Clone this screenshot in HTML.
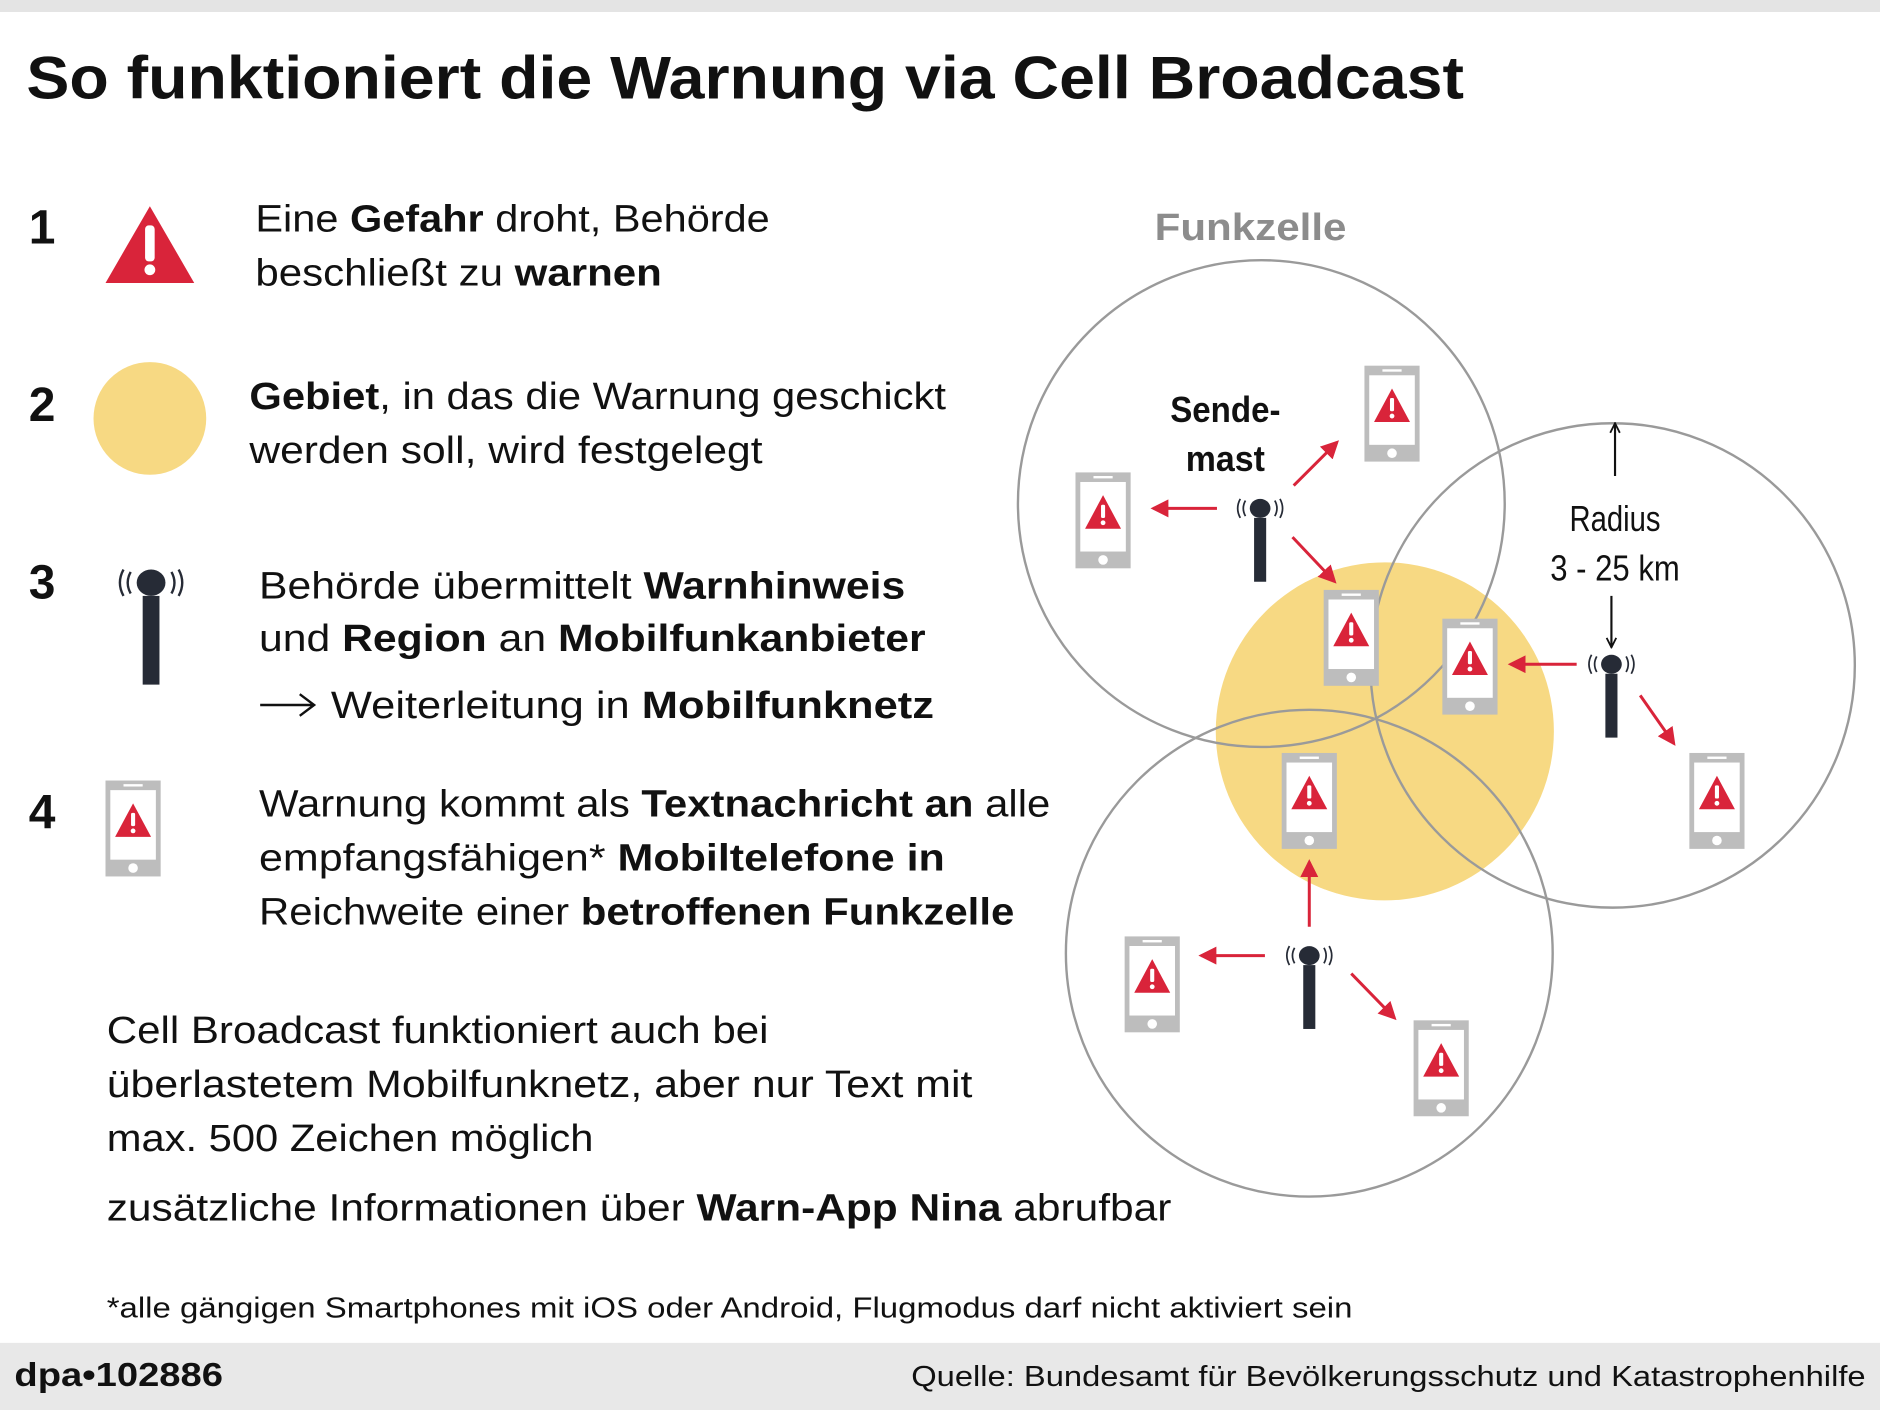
<!DOCTYPE html>
<html><head><meta charset="utf-8"><style>html,body{margin:0;padding:0;background:#fff}svg{display:block}</style></head>
<body>
<svg width="1880" height="1410" viewBox="0 0 1568 1176" preserveAspectRatio="none" xmlns="http://www.w3.org/2000/svg" font-family="Liberation Sans, sans-serif">
<defs>
<g id="phone">
<rect x="0" y="0" width="46" height="80" fill="#bdbdbd"/>
<rect x="4" y="8" width="38" height="58" fill="#fff"/>
<rect x="15" y="3" width="16" height="2" fill="#fff"/>
<circle cx="23" cy="73" r="4" fill="#fff"/>
<path d="M23 19 L38 47 L8 47 Z" fill="#d9243a"/>
<rect x="21.3" y="27" width="3.4" height="11" rx="1.2" fill="#fff"/>
<circle cx="23" cy="42" r="2" fill="#fff"/>
</g>
<g id="mast">
<ellipse cx="0" cy="0" rx="12" ry="11" fill="#262b36"/>
<rect x="-7" y="11" width="14" height="74" fill="#262b36"/>
<path d="M-17 -9 Q-22 0 -17 9 M-23 -11 Q-29 0 -23 11 M17 -9 Q22 0 17 9 M23 -11 Q29 0 23 11" fill="none" stroke="#262b36" stroke-width="2"/>
</g>
<marker id="ah" markerWidth="6" markerHeight="6" refX="5" refY="3" orient="auto" markerUnits="strokeWidth"><path d="M0 0 L6 3 L0 6 Z" fill="#d9243a"/></marker>
<marker id="bh" markerWidth="10" markerHeight="10" refX="9" refY="5" orient="auto" markerUnits="userSpaceOnUse"><path d="M1 1 L9 5 L1 9" fill="none" stroke="#111" stroke-width="1.5"/></marker>
</defs>

<rect x="0" y="0" width="1568" height="10" fill="#e4e4e4"/>
<text x="22" y="82" font-size="50" font-weight="bold" fill="#111" textLength="1199" lengthAdjust="spacingAndGlyphs">So funktioniert die Warnung via Cell Broadcast</text>

<g font-size="40" font-weight="bold" fill="#111">
<text x="24" y="203">1</text><text x="24" y="351">2</text><text x="24" y="499">3</text><text x="24" y="691">4</text>
</g>
<path d="M125 172 L162 236 L88 236 Z" fill="#d9243a"/>
<rect x="121" y="188" width="8" height="30" rx="3" fill="#fff"/>
<circle cx="125" cy="225" r="4.5" fill="#fff"/>
<ellipse cx="125" cy="349" rx="47" ry="47" fill="#f7d983"/>
<use href="#mast" transform="translate(126,486)"/>
<use href="#phone" transform="translate(88,651)"/>

<g font-size="32" fill="#111">
<text x="213" y="193" textLength="429" lengthAdjust="spacingAndGlyphs">Eine <tspan font-weight="bold">Gefahr</tspan> droht, Behörde</text>
<text x="213" y="238" textLength="339" lengthAdjust="spacingAndGlyphs">beschließt zu <tspan font-weight="bold">warnen</tspan></text>
<text x="208" y="341" textLength="581" lengthAdjust="spacingAndGlyphs"><tspan font-weight="bold">Gebiet</tspan>, in das die Warnung geschickt</text>
<text x="208" y="386" textLength="428" lengthAdjust="spacingAndGlyphs">werden soll, wird festgelegt</text>
<text x="216" y="499" textLength="539" lengthAdjust="spacingAndGlyphs">Behörde übermittelt <tspan font-weight="bold">Warnhinweis</tspan></text>
<text x="216" y="543" textLength="556" lengthAdjust="spacingAndGlyphs">und <tspan font-weight="bold">Region</tspan> an <tspan font-weight="bold">Mobilfunkanbieter</tspan></text>
<text x="276" y="599" textLength="503" lengthAdjust="spacingAndGlyphs">Weiterleitung in <tspan font-weight="bold">Mobilfunknetz</tspan></text>
<text x="216" y="681" textLength="660" lengthAdjust="spacingAndGlyphs">Warnung kommt als <tspan font-weight="bold">Textnachricht an</tspan> alle</text>
<text x="216" y="726" textLength="572" lengthAdjust="spacingAndGlyphs">empfangsfähigen* <tspan font-weight="bold">Mobiltelefone in</tspan></text>
<text x="216" y="771" textLength="630" lengthAdjust="spacingAndGlyphs">Reichweite einer <tspan font-weight="bold">betroffenen Funkzelle</tspan></text>
<text x="89" y="870" textLength="552" lengthAdjust="spacingAndGlyphs">Cell Broadcast funktioniert auch bei</text>
<text x="89" y="915" textLength="722" lengthAdjust="spacingAndGlyphs">überlastetem Mobilfunknetz, aber nur Text mit</text>
<text x="89" y="960" textLength="406" lengthAdjust="spacingAndGlyphs">max. 500 Zeichen möglich</text>
<text x="89" y="1018" textLength="888" lengthAdjust="spacingAndGlyphs">zusätzliche Informationen über <tspan font-weight="bold">Warn-App Nina</tspan> abrufbar</text>
</g>
<path d="M217 588 L261 588 M250 579 L262 588 L250 597" fill="none" stroke="#111" stroke-width="2"/>
<text x="89" y="1099" font-size="24" fill="#111" textLength="1039" lengthAdjust="spacingAndGlyphs">*alle gängigen Smartphones mit iOS oder Android, Flugmodus darf nicht aktiviert sein</text>

<!-- diagram -->
<text x="963" y="200" font-size="32" font-weight="bold" fill="#8c8c8c" textLength="160" lengthAdjust="spacingAndGlyphs">Funkzelle</text>
<circle cx="1155" cy="610" r="141" fill="#f7d983"/>
<g fill="none" stroke="#9a9a9a" stroke-width="2">
<circle cx="1052" cy="420" r="203"/>
<circle cx="1345" cy="555" r="202"/>
<circle cx="1092" cy="795" r="203"/>
</g>
<use href="#mast" transform="translate(1051,424) scale(0.72)"/>
<use href="#mast" transform="translate(1344,554) scale(0.72)"/>
<use href="#mast" transform="translate(1092,797) scale(0.72)"/>
<use href="#phone" transform="translate(1138,305)"/>
<use href="#phone" transform="translate(897,394)"/>
<use href="#phone" transform="translate(1104,492)"/>
<use href="#phone" transform="translate(1203,516)"/>
<use href="#phone" transform="translate(1069,628)"/>
<use href="#phone" transform="translate(1409,628)"/>
<use href="#phone" transform="translate(938,781)"/>
<use href="#phone" transform="translate(1179,851)"/>
<g stroke="#d9243a" stroke-width="2.5" marker-end="url(#ah)">
<line x1="1079" y1="405" x2="1115" y2="369"/>
<line x1="1015" y1="424" x2="962" y2="424"/>
<line x1="1078" y1="448" x2="1113" y2="485"/>
<line x1="1315" y1="554" x2="1260" y2="554"/>
<line x1="1368" y1="580" x2="1396" y2="620"/>
<line x1="1092" y1="773" x2="1092" y2="719"/>
<line x1="1055" y1="797" x2="1002" y2="797"/>
<line x1="1127" y1="812" x2="1163" y2="849"/>
</g>
<g stroke="#111" stroke-width="1.8" marker-end="url(#bh)">
<line x1="1347" y1="397" x2="1347" y2="353"/>
<line x1="1344" y1="497" x2="1344" y2="540"/>
</g>
<g font-size="30" text-anchor="middle" fill="#111">
<text x="1022" y="352" font-weight="bold" textLength="92" lengthAdjust="spacingAndGlyphs">Sende-</text>
<text x="1022" y="393" font-weight="bold" textLength="66" lengthAdjust="spacingAndGlyphs">mast</text>
<text x="1347" y="443" textLength="76" lengthAdjust="spacingAndGlyphs">Radius</text>
<text x="1347" y="484" textLength="108" lengthAdjust="spacingAndGlyphs">3 - 25 km</text>
</g>

<rect x="0" y="1120" width="1568" height="56" fill="#e8e8e8"/>
<text x="12" y="1156" font-size="28" font-weight="bold" fill="#111" textLength="174" lengthAdjust="spacingAndGlyphs">dpa•102886</text>
<text x="1556" y="1156" font-size="24" fill="#111" text-anchor="end" textLength="796" lengthAdjust="spacingAndGlyphs">Quelle: Bundesamt für Bevölkerungsschutz und Katastrophenhilfe</text>
</svg>
</body></html>
